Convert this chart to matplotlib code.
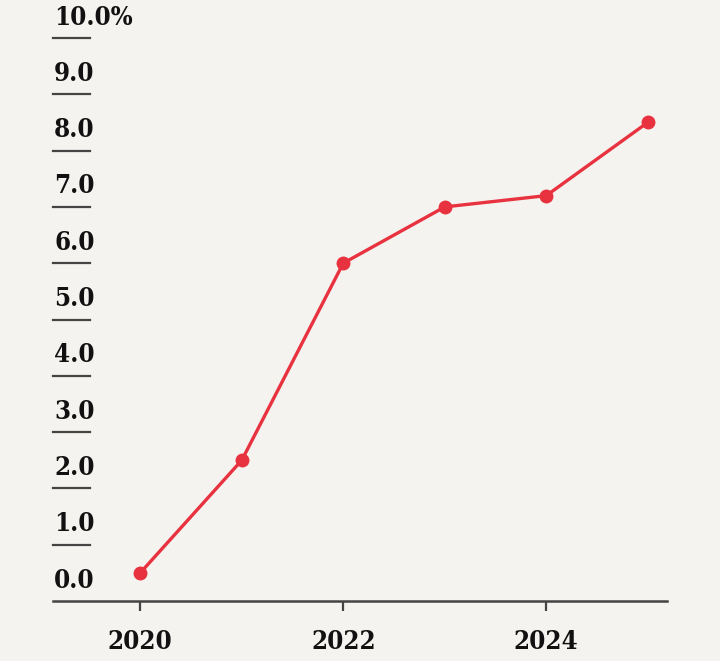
import matplotlib.pyplot as plt
import matplotlib.transforms as mtransforms

years = [2020, 2021, 2022, 2023, 2024, 2025]
values = [0.5, 2.5, 6.0, 7.0, 7.2, 8.5]
y_ticks = [0, 1, 2, 3, 4, 5, 6, 7, 8, 9, 10]
y_labels = ['0.0', '1.0', '2.0', '3.0', '4.0', '5.0', '6.0', '7.0', '8.0', '9.0', '10.0%']
x_ticks = [2020, 2022, 2024]

bg = '#f5f3ef'
red = '#e8323f'
dark = '#444444'
font = ['DejaVu Serif']

fig = plt.figure(figsize=(7.2, 6.61), dpi=100, facecolor=bg)
ax = fig.add_axes([53 / 720, 1 - 601 / 661, 614 / 720, (601 - 38) / 661])
ax.set_facecolor(bg)

ax.plot(years, values, color=red, linewidth=2.4, marker='o', markersize=9, zorder=3)

ax.set_xlim(2019.14, 2025.19)
ax.set_ylim(0, 10)

# short rules under each y label
trans = mtransforms.blended_transform_factory(ax.transAxes, ax.transData)
for y, lab in zip(y_ticks, y_labels):
    if y > 0:
        ax.axhline(y, xmin=0, xmax=0.06, color=dark, linewidth=1.6, clip_on=False)
    ax.text(0.002, y + 0.15, lab, transform=trans, ha='left', va='bottom',
            fontsize=18.5, fontweight='bold', fontstretch='condensed',
            family=font, color='#111111')

for side in ['top', 'right', 'left']:
    ax.spines[side].set_visible(False)
ax.spines['bottom'].set_color(dark)
ax.spines['bottom'].set_linewidth(1.8)

ax.set_yticks([])
ax.set_xticks(x_ticks)
ax.set_xticklabels([str(x) for x in x_ticks], fontsize=18.5, fontweight='bold',
                   fontstretch='condensed', family=font, color='#111111')
ax.tick_params(axis='x', direction='out', length=7, width=1.6, color=dark, pad=13)

fig.savefig('out.png', dpi=100, facecolor=bg)
